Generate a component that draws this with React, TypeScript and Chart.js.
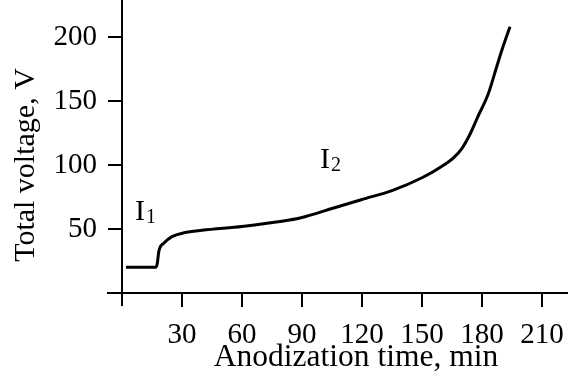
import React, { useEffect, useRef } from 'react';
import { Chart, registerables } from 'chart.js';

Chart.register(...registerables);

const times = [2, 16.5, 17.5, 18.5, 21, 25, 31, 40, 60, 80, 90, 105, 120, 135, 150, 160, 166, 170, 174, 178, 183, 187, 190, 194];
const voltage = [20, 20, 22, 33, 39, 44, 47, 49, 52, 56, 59, 66, 73, 80, 90, 99, 106, 113, 124, 138, 155, 175, 190, 208];
const xTicks = [30, 60, 90, 120, 150, 180, 210];
const yTicks = [50, 100, 150, 200];
const xTitle = 'Anodization time, min';
const yTitle = 'Total voltage, V';
const regionLabels = [
  { main: 'I', sub: '1', t: 6.5, v: 57 },
  { main: 'I', sub: '2', t: 99, v: 97.5 },
];

const FONT = '"Liberation Serif", "Times New Roman", serif';

const axesPlugin = {
  id: 'crossAxes',
  beforeDatasetsDraw(chart: any) {
    const { ctx, chartArea, scales } = chart;
    const xs = scales.x;
    const ys = scales.y;
    const x0 = xs.getPixelForValue(0);
    const y0 = ys.getPixelForValue(0);
    ctx.save();
    ctx.strokeStyle = '#000';
    ctx.lineWidth = 2;
    ctx.lineCap = 'butt';
    ctx.beginPath();
    ctx.moveTo(x0, 0);
    ctx.lineTo(x0, chartArea.bottom);
    ctx.moveTo(chartArea.left, y0);
    ctx.lineTo(chart.width, y0);
    for (const t of xs.ticks) {
      const px = xs.getPixelForValue(t.value);
      ctx.moveTo(px, y0);
      ctx.lineTo(px, y0 + 14);
    }
    for (const t of ys.ticks) {
      const py = ys.getPixelForValue(t.value);
      ctx.moveTo(x0 - 14, py);
      ctx.lineTo(x0, py);
    }
    ctx.stroke();
    ctx.restore();
  },
  afterDatasetsDraw(chart: any) {
    const { ctx, scales } = chart;
    const xs = scales.x;
    const ys = scales.y;
    ctx.save();
    ctx.fillStyle = '#000';
    ctx.textBaseline = 'alphabetic';
    for (const r of regionLabels) {
      const px = xs.getPixelForValue(r.t);
      const py = ys.getPixelForValue(r.v);
      ctx.font = `30px ${FONT}`;
      ctx.textAlign = 'left';
      ctx.fillText(r.main, px, py);
      const w = ctx.measureText(r.main).width;
      ctx.font = `20px ${FONT}`;
      ctx.fillText(r.sub, px + w + 1, py + 3);
    }
    ctx.font = `31.5px ${FONT}`;
    ctx.textAlign = 'center';
    ctx.textBaseline = 'middle';
    ctx.fillText(xTitle, 356, 358);
    ctx.font = `30px ${FONT}`;
    ctx.translate(26, 165);
    ctx.rotate(-Math.PI / 2);
    ctx.fillText(yTitle, 0, 0);
    ctx.restore();
  },
};

export default function App() {
  const ref = useRef<HTMLCanvasElement | null>(null);
  useEffect(() => {
    if (!ref.current) return;
    const chart = new Chart(ref.current, {
      type: 'line',
      data: {
        datasets: [
          {
            data: times.map((t, i) => ({ x: t, y: voltage[i] })),
            borderColor: '#000',
            borderWidth: 3,
            pointRadius: 0,
            fill: false,
            cubicInterpolationMode: 'monotone',
          },
        ],
      },
      options: {
        animation: false,
        responsive: false,
        layout: { padding: 0 },
        plugins: { legend: { display: false }, tooltip: { enabled: false } },
        scales: {
          x: {
            type: 'linear',
            min: -7.5,
            max: 223,
            afterBuildTicks: (s: any) => {
              s.ticks = xTicks.map((v) => ({ value: v }));
            },
            afterFit: (s: any) => {
              s.height = 74;
              s.paddingLeft = 0;
              s.paddingRight = 0;
            },
            grid: { display: false, drawTicks: false },
            border: { display: false },
            ticks: {
              color: '#000',
              font: { family: FONT, size: 29 },
              padding: 12,
              maxRotation: 0,
              autoSkip: false,
            },
          },
          y: {
            type: 'linear',
            min: -10.2,
            max: 228.9,
            afterBuildTicks: (s: any) => {
              s.ticks = yTicks.map((v) => ({ value: v }));
            },
            afterFit: (s: any) => {
              s.width = 107;
              s.paddingTop = 0;
              s.paddingBottom = 0;
            },
            grid: { display: false, drawTicks: false },
            border: { display: false },
            ticks: {
              color: '#000',
              font: { family: FONT, size: 29 },
              padding: 10,
              autoSkip: false,
            },
          },
        },
      },
      plugins: [axesPlugin],
    } as any);
    return () => chart.destroy();
  }, []);
  return (
    <div style={{ position: 'fixed', left: 0, top: 0, width: 568, height: 380, background: '#fff' }}>
      <canvas ref={ref} width={568} height={380} />
    </div>
  );
}
